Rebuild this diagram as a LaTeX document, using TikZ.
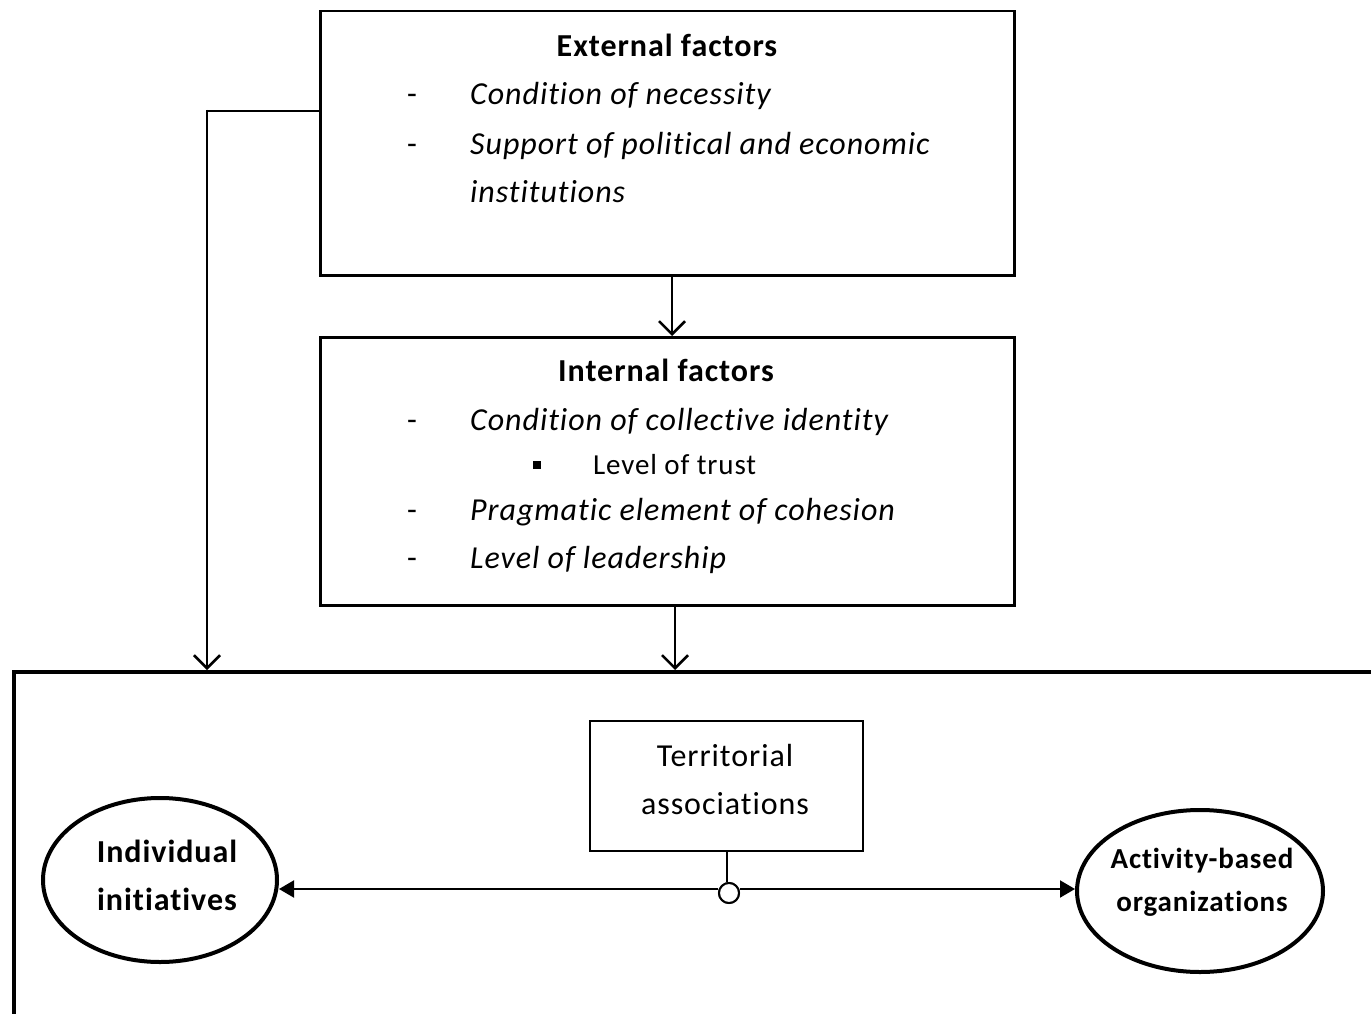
\documentclass[tikz,border=0pt]{standalone}
\usepackage{fontspec}
\setmainfont{Carlito}[LetterSpace=3,Ligatures={NoCommon}]
\usetikzlibrary{arrows.meta,shapes.geometric}
\begin{document}
\begin{tikzpicture}[x=1pt,y=-1pt,
  fs/.style={font=\fontsize{32}{38}\selectfont},
  ttl/.style={font=\fontsize{32}{38}\selectfont\bfseries},
  itm/.style={anchor=base west,inner sep=0pt,font=\fontsize{32}{38}\selectfont\itshape},
  dsh/.style={anchor=base,inner sep=0pt,font=\fontsize{32}{38}\selectfont},
  frame/.style={draw,line width=2.5pt},
  conn/.style={line width=2pt},
  downarr/.style={conn,-{Straight Barb[length=13pt,width=26pt,line width=2.5pt]}},
  sidearr/.style={conn,-{Triangle[length=15pt,width=17pt]}},
  oval/.style={draw,ellipse,line width=4pt}
]
\useasboundingbox (0,0) rectangle (1371,1014);
% External box
\node[frame,minimum width=694pt,minimum height=264pt,anchor=north west,inner sep=0pt] (ext) at (319,10) {};
\node[ttl,inner sep=0pt,anchor=base] (extT) at (667,57) {External factors};
\node[dsh] (d1) at (412,105) {-};
\node[itm] (e1) at (470,105) {Condition of necessity};
\node[dsh] (d2) at (412,154) {-};
\node[itm] (e2) at (470,154) {Support of political and economic};
\node[itm] (e3) at (470,202) {institutions};
% Internal box
\node[frame,minimum width=694pt,minimum height=268pt,anchor=north west,inner sep=0pt] (int) at (319,336) {};
\node[ttl,inner sep=0pt,anchor=base] (intT) at (666,381) {Internal factors};
\node[dsh] (d3) at (412,430) {-};
\node[itm] (i1) at (470,430) {Condition of collective identity};
\node[fill,minimum size=8pt,inner sep=0pt] (sq) at (537,465) {};
\node[anchor=base west,inner sep=0pt,font=\fontsize{29}{34}\selectfont] (i2) at (593,474) {Level of trust};
\node[dsh] (d4) at (412,520) {-};
\node[itm] (i3) at (470,520) {Pragmatic element of cohesion};
\node[dsh] (d5) at (412,568) {-};
\node[itm] (i4) at (470,568) {Level of leadership};
% Big frame
\coordinate (fTL) at (14,672);
\draw[line width=4pt] (1371,672) -- (fTL) -- (14,1014);
\coordinate (aL) at (207,670);
\coordinate (aM) at (675,670);
\draw[conn] (ext.west |- 0,111) -- (207,111);
\draw[downarr] (207,110) -- (aL);
\draw[downarr] (672,274) -- (int.north -| 672,0);
\draw[downarr] (675,604) -- (aM);
% Territorial associations
\node[draw,line width=2pt,minimum width=273pt,minimum height=130pt,anchor=north west,inner sep=0pt] (ter) at (589,720) {};
\node[fs,inner sep=0pt,anchor=base] at (725,766) {Territorial};
\node[fs,inner sep=0pt,anchor=base] at (725,814) {associations};
% Ellipses
\node[oval,minimum width=234pt,minimum height=164pt,inner sep=0pt] (ind) at (160,880) {};
\node[font=\fontsize{32}{38}\selectfont\bfseries,align=center,inner sep=0pt] at (167,875) {Individual\\[10pt]initiatives};
\node[oval,minimum width=246pt,minimum height=162pt,inner sep=0pt] (act) at (1200,891) {};
\node[font=\fontsize{29}{34}\selectfont\bfseries,align=center,inner sep=0pt] at (1202,882) {Activity-based\\[9pt]organizations};
% Connections
\node[draw,circle,line width=2pt,fill=white,minimum size=20pt,inner sep=0pt] (hub) at (729,893) {};
\draw[conn] (ter.south) -- (ter.south |- hub.north);
\draw[sidearr] (hub.west) ++(0,-4) -- (ind.east |- 0,889);
\draw[sidearr] (hub.east) ++(0,-4) -- (act.west |- 0,889);
\node[draw,circle,line width=2pt,fill=white,minimum size=20pt,inner sep=0pt] at (hub) {};
\end{tikzpicture}
\end{document}
